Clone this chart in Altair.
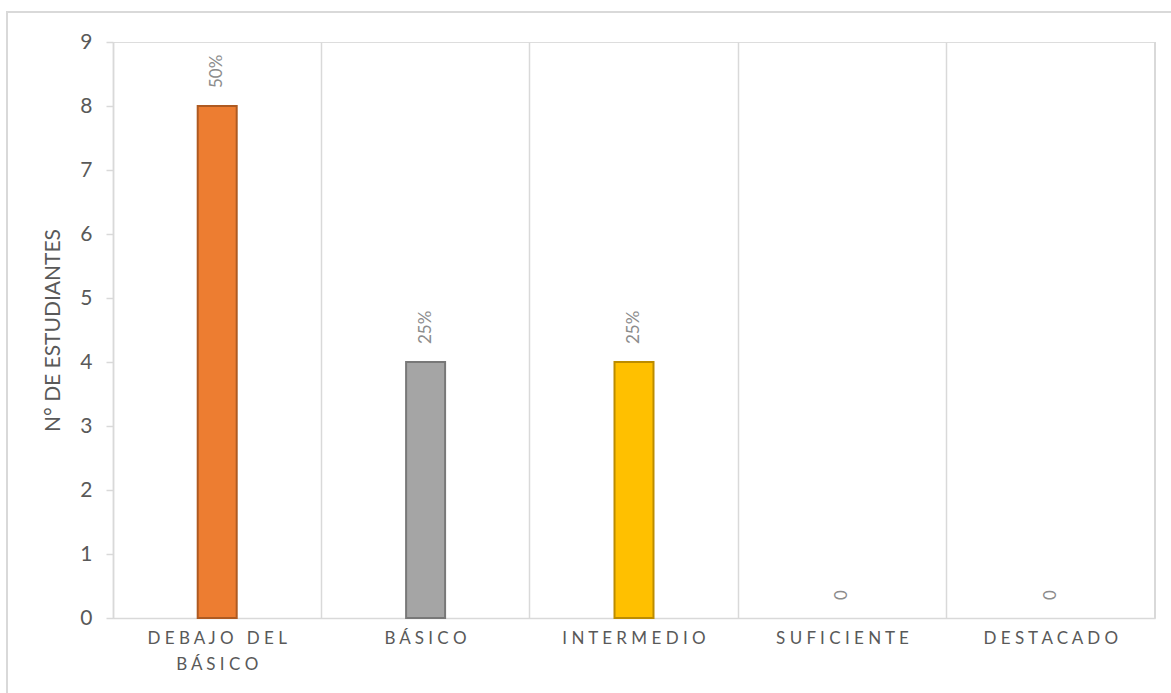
import altair as alt
import pandas as pd

categories = ["DEBAJO DEL BÁSICO", "BÁSICO", "INTERMEDIO", "SUFICIENTE", "DESTACADO"]
values = [8, 4, 4, 0, 0]
value_labels = ["50%", "25%", "25%", "0", "0"]
fill_colors = ["#ED7D31", "#A5A5A5", "#FFC000", "#5B9BD5", "#70AD47"]
stroke_colors = ["#AE5A21", "#787878", "#BC8C00", "#41719C", "#507E32"]
y_ticks = list(range(0, 10))

NB = "\u00a0"


def spaced(word_line):
    words = word_line.split(" ")
    return (NB * 3).join(NB.join(list(w)) for w in words)


display_lines = {
    "DEBAJO DEL BÁSICO": [spaced("DEBAJO DEL"), spaced("BÁSICO")],
    "BÁSICO": [spaced("BÁSICO")],
    "INTERMEDIO": [spaced("INTERMEDIO")],
    "SUFICIENTE": [spaced("SUFICIENTE")],
    "DESTACADO": [spaced("DESTACADO")],
}
label_expr = "{" + ", ".join(
    "'" + k + "': [" + ", ".join("'" + s + "'" for s in v) + "]" for k, v in display_lines.items()
) + "}[datum.label]"

df = pd.DataFrame({
    "cat": categories,
    "val": values,
    "lab": value_labels,
    "fill": fill_colors,
    "stroke": stroke_colors,
})

W, H = 1042, 576
FONT = "Lato"
GRID = "#D9D9D9"

x_enc = alt.X(
    "cat:N",
    sort=categories,
    scale=alt.Scale(paddingInner=0, paddingOuter=0),
    axis=alt.Axis(
        title=None,
        labelAngle=0,
        labelExpr=label_expr,
        labelFont=FONT,
        labelFontSize=17,
        labelColor="#595959",
        labelPadding=12,
        labelLineHeight=26,
        labelBaseline="top",
        ticks=False,
        grid=True,
        gridColor=GRID,
        gridWidth=1.5,
        bandPosition=0,
        domainColor=GRID,
        domainWidth=1.5,
    ),
)

y_enc = alt.Y(
    "val:Q",
    scale=alt.Scale(domain=[0, 9], nice=False),
    axis=alt.Axis(
        title="N° DE ESTUDIANTES",
        values=y_ticks,
        format="d",
        grid=False,
        labelFont=FONT,
        labelFontSize=21,
        labelColor="#595959",
        labelPadding=14,
        tickColor=GRID,
        tickSize=7,
        tickWidth=1.5,
        domainColor=GRID,
        domainWidth=1.5,
        titleFont=FONT,
        titleFontSize=21,
        titleFontWeight="normal",
        titleColor="#595959",
        titleAngle=270,
        titleX=-60,
        titleY=H / 2,
        titleAlign="center",
        titleBaseline="middle",
    ),
)

bars = alt.Chart(df).mark_bar(size=39, strokeWidth=2).encode(
    x=x_enc,
    y=y_enc,
    fill=alt.Fill("fill:N", scale=None),
    stroke=alt.Stroke("stroke:N", scale=None),
    strokeOpacity=alt.condition(alt.datum.val > 0, alt.value(1), alt.value(0)),
)

texts = alt.Chart(df).mark_text(
    angle=270, align="left", baseline="middle", dx=18,
    font=FONT, fontSize=17, color="#8C8C8C",
).encode(
    x=alt.X("cat:N", sort=categories),
    y=alt.Y("val:Q"),
    text="lab:N",
)

right_line = alt.Chart(df).mark_rule(color=GRID, strokeWidth=1.5).encode(
    x=alt.value(W), y=alt.value(0), y2=alt.value(H)
)

border = alt.Chart(df).mark_rect(fill=None, stroke=GRID, strokeWidth=1.5).encode(
    x=alt.value(-106), x2=alt.value(W + 60), y=alt.value(-30), y2=alt.value(H + 120)
)

chart = alt.layer(border, right_line, bars, texts).properties(
    width=W,
    height=H,
    autosize=alt.AutoSizeParams(type="none"),
    padding={"left": 113, "top": 42, "right": 16, "bottom": 75},
).configure_view(stroke=None).configure(background="white")

chart.save("out.html", embed_options={"renderer": "svg", "actions": False})
